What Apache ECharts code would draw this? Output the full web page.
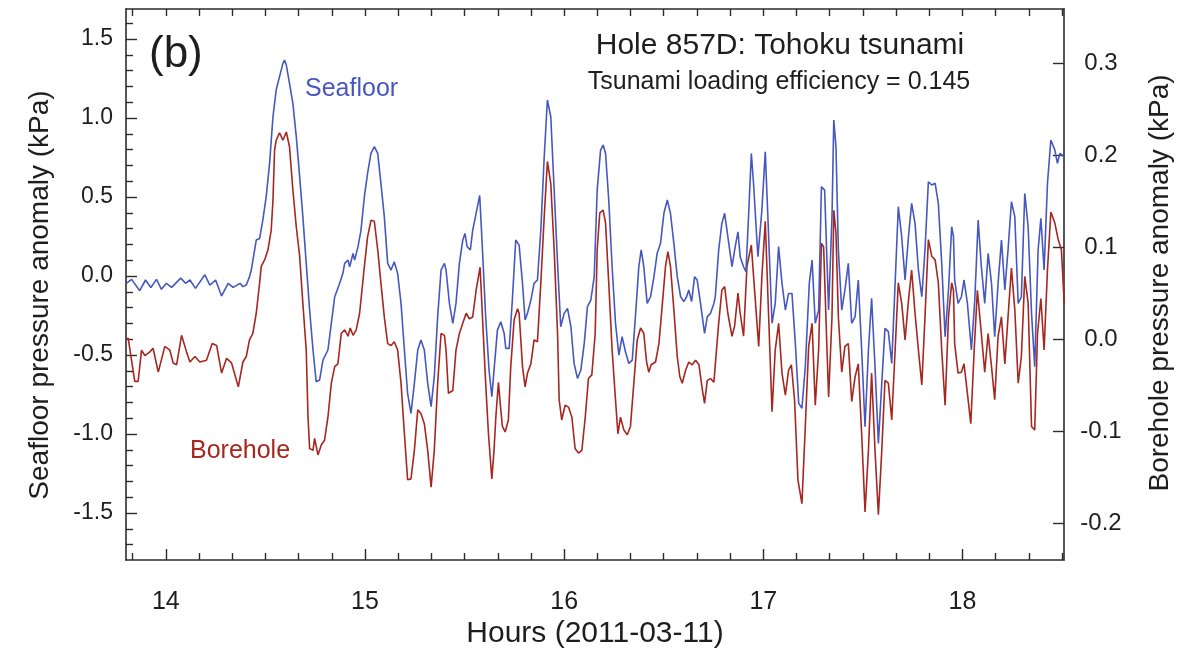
<!DOCTYPE html>
<html>
<head>
<meta charset="utf-8">
<script src="https://cdn.jsdelivr.net/npm/echarts@6/dist/echarts.min.js"></script>
<style>
html,body{margin:0;padding:0;background:#fff;}
#chart{width:1196px;height:655px;}
</style>
</head>
<body>
<div id="chart"></div>
<script>
// ---- Data (hours of 2011-03-11, kPa) ----
const seafloorHours = [13.802,13.828,13.869,13.898,13.925,13.953,13.978,14.003,14.029,14.075,14.099,14.121,14.149,14.196,14.221,14.250,14.280,14.313,14.338,14.372,
14.387,14.404,14.420,14.429,14.446,14.454,14.471,14.487,14.504,14.521,14.538,14.554,14.571,14.588,14.596,14.605,14.621,14.638,14.655,14.672,14.688,14.705,14.722,14.739,14.755,14.772,14.789,14.797,14.814,14.831,14.848,14.873,14.889,14.898,14.915,14.923,14.940,14.948,14.965,
14.980,14.997,15.013,15.030,15.047,15.064,15.080,15.097,15.114,15.131,15.147,15.164,15.181,15.198,15.214,15.231,15.248,15.265,15.281,15.298,15.315,15.332,15.348,15.365,15.382,15.399,15.407,15.424,15.441,15.457,15.474,15.491,15.502,15.513,15.529,15.541,15.558,15.576,
15.590,15.606,15.623,15.637,15.648,15.665,15.682,15.699,15.707,15.724,15.740,15.757,15.774,15.791,15.804,15.816,15.833,15.849,15.866,15.883,15.900,15.916,15.925,15.933,15.950,15.967,15.983,16.000,16.017,16.034,16.050,16.067,16.084,16.101,16.117,16.134,16.151,
16.166,16.183,16.196,16.208,16.224,16.241,16.258,16.275,16.291,16.308,16.325,16.342,16.358,16.375,16.387,16.400,16.417,16.434,16.451,16.467,16.484,16.501,16.518,16.534,16.551,16.568,16.585,16.601,16.615,16.626,16.640,16.655,16.668,16.685,16.705,16.719,16.735,16.752,
16.759,16.776,16.792,16.806,16.822,16.843,16.859,16.873,16.884,16.901,16.913,16.926,16.940,16.951,16.973,16.993,17.010,17.023,17.044,17.060,17.077,17.094,17.111,17.127,17.144,17.161,17.178,17.194,17.211,17.231,17.245,17.261,17.278,17.292,17.308,17.328,17.345,
17.354,17.365,17.377,17.394,17.410,17.427,17.444,17.461,17.477,17.494,17.511,17.528,17.544,17.561,17.578,17.595,17.611,17.628,17.645,17.662,17.678,17.695,17.712,17.729,17.745,17.762,17.779,17.796,17.812,17.829,17.846,17.863,17.879,17.896,17.913,17.930,17.946,17.955,
17.961,17.978,17.995,18.008,18.025,18.045,18.062,18.079,18.095,18.112,18.129,18.146,18.162,18.179,18.196,18.213,18.229,18.246,18.263,18.280,18.296,18.313,18.330,18.347,18.363,18.380,18.394,18.410,18.427,18.444,18.464,18.477,18.489,18.511];
const seafloorKPa = [-0.046,-0.021,-0.093,-0.025,-0.072,-0.021,-0.084,-0.046,-0.072,-0.013,-0.046,-0.025,-0.078,0.008,-0.057,-0.025,-0.126,-0.046,-0.072,-0.046,
-0.067,-0.057,-0.004,0.038,0.165,0.228,0.238,0.354,0.502,0.713,1.008,1.177,1.262,1.346,1.367,1.335,1.219,1.093,0.882,0.629,0.376,0.080,-0.215,-0.468,-0.669,-0.658,-0.532,-0.532,-0.468,-0.299,-0.131,-0.046,0.017,0.080,0.101,0.059,0.143,0.101,0.186,
0.291,0.502,0.650,0.776,0.819,0.776,0.587,0.376,0.080,0.038,0.091,0.017,-0.173,-0.468,-0.743,-0.869,-0.679,-0.468,-0.405,-0.468,-0.679,-0.827,-0.637,-0.257,0.038,0.080,0.038,-0.173,-0.299,-0.173,0.080,0.228,0.270,0.186,0.165,0.291,0.397,0.510,
0.165,-0.257,-0.595,-0.764,-0.595,-0.342,-0.289,-0.363,-0.458,-0.458,-0.152,0.228,0.196,-0.046,-0.278,-0.236,-0.152,-0.046,-0.025,0.291,0.755,1.114,1.124,1.008,0.544,0.080,-0.321,-0.236,-0.205,-0.321,-0.553,-0.648,-0.595,-0.426,-0.194,-0.152,-0.004,
0.544,0.797,0.829,0.776,0.481,0.059,-0.299,-0.500,-0.384,-0.479,-0.553,-0.532,-0.257,0.059,0.165,0.059,-0.173,-0.131,-0.004,0.143,0.207,0.397,0.481,0.397,0.207,-0.004,-0.131,-0.162,-0.131,-0.088,-0.162,-0.004,-0.025,-0.173,-0.363,-0.257,-0.236,-0.173,
-0.131,0.165,0.333,0.397,0.249,0.059,0.186,0.280,0.122,0.059,0.027,0.376,0.776,0.587,0.122,0.418,0.787,0.376,-0.299,-0.173,0.186,-0.046,-0.215,-0.110,-0.110,-0.426,-0.806,-0.837,-0.574,-0.046,0.101,-0.299,-0.215,0.565,0.544,-0.215,0.376,
0.987,0.819,0.165,-0.215,-0.088,0.080,-0.299,-0.257,-0.025,-0.468,-0.953,-0.468,-0.141,-0.574,-1.059,-0.679,-0.331,-0.352,-0.553,-0.046,0.439,0.249,-0.025,0.249,0.460,0.333,0.038,-0.131,0.165,0.597,0.576,0.587,0.460,0.080,-0.384,-0.088,0.312,0.249,
-0.025,-0.173,-0.131,-0.025,-0.173,-0.468,-0.152,0.354,0.059,-0.173,0.143,-0.046,-0.384,-0.046,0.228,-0.088,0.165,0.470,0.376,-0.173,-0.131,0.523,0.312,-0.236,-0.574,0.165,0.365,0.038,0.587,0.861,0.797,0.713,0.776,0.755];

const boreholeHours = [13.799,13.811,13.844,13.861,13.878,13.895,13.920,13.936,13.962,13.995,14.020,14.037,14.054,14.079,14.104,14.121,14.146,14.171,14.204,14.233,14.255,14.280,14.305,14.330,14.364,
14.387,14.404,14.420,14.437,14.454,14.471,14.479,14.496,14.513,14.529,14.538,14.546,14.554,14.571,14.588,14.605,14.613,14.621,14.638,14.655,14.672,14.688,14.705,14.714,14.722,14.739,14.747,14.764,14.781,14.797,14.814,14.831,14.848,14.864,14.881,14.898,14.915,14.926,14.940,14.956,14.973,
14.997,15.013,15.030,15.047,15.064,15.080,15.097,15.114,15.131,15.147,15.164,15.181,15.198,15.214,15.231,15.248,15.265,15.281,15.298,15.315,15.332,15.348,15.365,15.382,15.399,15.407,15.419,15.441,15.457,15.474,15.491,15.508,15.524,15.541,15.558,15.578,
15.590,15.606,15.620,15.637,15.648,15.657,15.670,15.682,15.690,15.704,15.720,15.732,15.749,15.766,15.774,15.791,15.804,15.816,15.833,15.849,15.866,15.883,15.900,15.916,15.925,15.933,15.950,15.967,15.975,15.988,16.005,16.022,16.039,16.055,16.072,16.089,16.106,16.122,16.139,16.156,
16.166,16.179,16.196,16.208,16.224,16.241,16.258,16.270,16.283,16.291,16.300,16.317,16.333,16.350,16.367,16.384,16.400,16.414,16.425,16.437,16.459,16.476,16.492,16.509,16.521,16.534,16.551,16.568,16.581,16.593,16.610,16.626,16.643,16.660,16.677,16.694,16.705,16.719,16.735,16.752,
16.759,16.776,16.792,16.806,16.822,16.843,16.856,16.873,16.884,16.901,16.918,16.940,16.960,16.977,16.993,17.010,17.027,17.044,17.060,17.077,17.094,17.111,17.127,17.141,17.157,17.174,17.194,17.211,17.228,17.245,17.261,17.278,17.292,17.303,17.320,17.328,17.345,
17.354,17.365,17.377,17.394,17.410,17.427,17.444,17.461,17.477,17.494,17.511,17.528,17.544,17.561,17.578,17.595,17.611,17.628,17.645,17.662,17.678,17.695,17.712,17.729,17.745,17.762,17.779,17.796,17.812,17.829,17.846,17.863,17.879,17.896,17.913,17.930,17.946,17.955,
17.961,17.978,17.995,18.008,18.025,18.042,18.059,18.075,18.092,18.112,18.129,18.146,18.162,18.179,18.196,18.213,18.229,18.246,18.263,18.280,18.296,18.313,18.330,18.347,18.363,18.377,18.394,18.410,18.427,18.444,18.464,18.481,18.497,18.511];
const boreholeKPa = [-0.001,0.001,-0.046,-0.046,-0.012,-0.018,-0.014,-0.010,-0.036,-0.008,-0.012,-0.026,-0.028,0.004,-0.014,-0.025,-0.019,-0.025,-0.023,-0.005,-0.007,-0.037,-0.021,-0.026,-0.052,
-0.025,-0.019,-0.001,0.006,0.028,0.061,0.079,0.086,0.097,0.118,0.151,0.205,0.216,0.224,0.216,0.225,0.227,0.209,0.162,0.122,0.090,0.039,-0.012,-0.085,-0.119,-0.121,-0.108,-0.126,-0.115,-0.110,-0.085,-0.048,-0.030,-0.027,0.006,0.010,0.003,0.012,0.004,0.010,0.028,
0.079,0.111,0.129,0.128,0.097,0.061,0.024,-0.005,-0.007,-0.003,-0.012,-0.048,-0.103,-0.153,-0.152,-0.121,-0.077,-0.081,-0.092,-0.121,-0.161,-0.121,-0.048,0.006,0.004,-0.012,-0.059,-0.056,-0.012,0.006,0.017,0.028,0.022,0.024,0.053,0.078,
0.024,-0.048,-0.103,-0.152,-0.121,-0.085,-0.047,-0.077,-0.095,-0.101,-0.088,-0.030,0.021,0.033,0.028,-0.030,-0.052,-0.037,-0.027,-0.001,-0.003,0.061,0.133,0.193,0.191,0.169,0.097,0.006,-0.066,-0.088,-0.072,-0.074,-0.085,-0.119,-0.124,-0.121,-0.085,-0.043,-0.039,0.006,
0.097,0.137,0.140,0.126,0.061,-0.012,-0.066,-0.103,-0.085,-0.083,-0.099,-0.104,-0.095,-0.048,-0.001,0.012,0.006,-0.025,-0.036,-0.028,-0.025,-0.005,0.035,0.079,0.095,0.079,0.032,-0.019,-0.041,-0.048,-0.034,-0.025,-0.028,-0.023,-0.028,-0.055,-0.070,-0.045,-0.043,-0.047,
-0.045,0.017,0.053,0.057,0.028,0.003,0.014,0.050,0.028,0.003,0.079,0.102,0.042,-0.008,0.068,0.128,0.024,-0.079,-0.012,0.017,-0.037,-0.061,-0.034,-0.028,-0.066,-0.153,-0.179,-0.095,-0.008,0.017,-0.072,-0.012,0.104,0.100,-0.012,-0.063,0.024,
0.140,0.115,0.024,-0.036,-0.008,-0.005,-0.068,-0.041,-0.027,-0.103,-0.188,-0.121,-0.037,-0.121,-0.191,-0.121,-0.045,-0.048,-0.088,-0.012,0.061,0.039,-0.001,0.042,0.075,0.028,-0.012,-0.050,0.024,0.108,0.090,0.086,0.061,-0.012,-0.072,0.024,0.061,0.053,
-0.005,-0.037,-0.036,-0.027,-0.059,-0.092,-0.012,0.053,0.013,-0.036,0.006,-0.030,-0.066,0.003,0.024,-0.027,0.024,0.077,0.032,-0.048,-0.019,0.068,0.039,-0.095,-0.099,0.006,0.044,-0.012,0.075,0.138,0.126,0.108,0.097,0.039];

// Tick labels
const hourTickLabels = [14, 15, 16, 17, 18];
const seafloorTickLabels = [-1.5, -1.0, -0.5, 0.0, 0.5, 1.0, 1.5];
const boreholeTickLabels = [-0.2, -0.1, 0.0, 0.1, 0.2, 0.3];

// ---- axis extents and tick positions ----
const X_MIN = 13.8, X_MAX = 18.51;
const SF_MIN = -1.797, SF_MAX = 1.690;
const BH_MIN = -0.2402, BH_MAX = 0.3587;
const xMinor = [];
for (let k = 83; k <= 111; k++) { const v = +(k / 6).toFixed(4); if (v >= X_MIN && v <= X_MAX && k % 6 !== 0) xMinor.push(v); }
const xAllTicks = [];
for (let k = 83; k <= 111; k++) { const v = +(k / 6).toFixed(4); if (v >= X_MIN && v <= X_MAX) xAllTicks.push(v); }
const sfMinor = [];
for (let k = -17; k <= 16; k++) { if (k % 5 !== 0) sfMinor.push(+(k / 10).toFixed(1)); }

const AX = '#2b2b2b';
const FONT = '"Liberation Sans", Arial, sans-serif';
const BLUE = '#4658bf';
const RED = '#a5271f';

const chart = echarts.init(document.getElementById('chart'), null, { renderer: 'canvas' });
const baseX = { type: 'value', min: X_MIN, max: X_MAX, splitLine: { show: false } };
const baseSF = { type: 'value', min: SF_MIN, max: SF_MAX, splitLine: { show: false } };

chart.setOption({
  animation: false,
  backgroundColor: '#fff',
  grid: { left: 126, right: 132, top: 9, bottom: 95, containLabel: false },
  xAxis: [
    Object.assign({}, baseX, {
      position: 'bottom',
      axisLine: { show: true, onZero: false, lineStyle: { color: AX, width: 1.6 } },
      axisTick: { show: true, inside: true, length: 11, customValues: hourTickLabels, lineStyle: { color: AX, width: 1.4 } },
      axisLabel: { show: true, customValues: hourTickLabels, margin: 30, fontSize: 25, fontFamily: FONT, color: '#1e1e1e',
        formatter: v => String(Math.round(v)) }
    }),
    Object.assign({}, baseX, {
      position: 'bottom',
      axisLine: { show: false, onZero: false },
      axisTick: { show: true, inside: true, length: 7, customValues: xMinor, lineStyle: { color: AX, width: 1.4 } },
      axisLabel: { show: false }
    }),
    Object.assign({}, baseX, {
      position: 'top',
      axisLine: { show: true, onZero: false, lineStyle: { color: AX, width: 1.6 } },
      axisTick: { show: true, inside: true, length: 7, customValues: xAllTicks, lineStyle: { color: AX, width: 1.4 } },
      axisLabel: { show: false }
    })
  ],
  yAxis: [
    Object.assign({}, baseSF, {
      position: 'left',
      axisLine: { show: true, onZero: false, lineStyle: { color: AX, width: 1.6 } },
      axisTick: { show: true, inside: true, length: 11, customValues: seafloorTickLabels, lineStyle: { color: AX, width: 1.4 } },
      axisLabel: { show: true, customValues: seafloorTickLabels, margin: 13, fontSize: 23, fontFamily: FONT, color: '#1e1e1e',
        formatter: v => (Math.abs(v) < 1e-9 ? 0 : v).toFixed(1) }
    }),
    {
      type: 'value', min: BH_MIN, max: BH_MAX, position: 'right', splitLine: { show: false },
      axisLine: { show: true, onZero: false, lineStyle: { color: AX, width: 1.6 } },
      axisTick: { show: true, inside: true, length: 11, customValues: boreholeTickLabels, lineStyle: { color: AX, width: 1.4 } },
      axisLabel: { show: true, customValues: boreholeTickLabels, margin: 37, align: 'center', fontSize: 24, fontFamily: FONT, color: '#1e1e1e',
        formatter: v => (Math.abs(v) < 1e-9 ? 0 : v).toFixed(1) }
    },
    Object.assign({}, baseSF, {
      position: 'left',
      axisLine: { show: false, onZero: false },
      axisTick: { show: true, inside: true, length: 7, customValues: sfMinor, lineStyle: { color: AX, width: 1.4 } },
      axisLabel: { show: false }
    })
  ],
  series: [
    {
      name: 'Borehole', type: 'line', xAxisIndex: 0, yAxisIndex: 1, showSymbol: false, symbol: 'none',
      lineStyle: { color: RED, width: 1.6 }, z: 3,
      data: boreholeHours.map((t, i) => [t, boreholeKPa[i]])
    },
    {
      name: 'Seafloor', type: 'line', xAxisIndex: 0, yAxisIndex: 0, showSymbol: false, symbol: 'none',
      lineStyle: { color: BLUE, width: 1.6 }, z: 4,
      data: seafloorHours.map((t, i) => [t, seafloorKPa[i]])
    }
  ],
  graphic: [
    { type: 'text', left: 149, top: 33, style: { text: '(b)', font: '44px "Liberation Sans", Arial, sans-serif', fill: '#1e1e1e' } },
    { type: 'text', x: 780, y: 46, style: { text: 'Hole 857D: Tohoku tsunami', font: '30px "Liberation Sans", Arial, sans-serif', fill: '#1e1e1e', align: 'center', verticalAlign: 'middle' } },
    { type: 'text', x: 779, y: 82, style: { text: 'Tsunami loading efficiency = 0.145', font: '25px "Liberation Sans", Arial, sans-serif', fill: '#1e1e1e', align: 'center', verticalAlign: 'middle' } },
    { type: 'text', x: 305, y: 89, style: { text: 'Seafloor', font: '25px "Liberation Sans", Arial, sans-serif', fill: BLUE, align: 'left', verticalAlign: 'middle' } },
    { type: 'text', x: 190, y: 451, style: { text: 'Borehole', font: '25px "Liberation Sans", Arial, sans-serif', fill: RED, align: 'left', verticalAlign: 'middle' } },
    { type: 'text', x: 40, y: 295, rotation: Math.PI / 2, style: { text: 'Seafloor pressure anomaly (kPa)', font: '28px "Liberation Sans", Arial, sans-serif', fill: '#1e1e1e', align: 'center', verticalAlign: 'middle' } },
    { type: 'text', x: 1160, y: 283, rotation: Math.PI / 2, style: { text: 'Borehole pressure anomaly (kPa)', font: '28px "Liberation Sans", Arial, sans-serif', fill: '#1e1e1e', align: 'center', verticalAlign: 'middle' } },
    { type: 'text', x: 595, y: 634, style: { text: 'Hours (2011-03-11)', font: '30px "Liberation Sans", Arial, sans-serif', fill: '#1e1e1e', align: 'center', verticalAlign: 'middle' } }
  ]
});
</script>
</body>
</html>
